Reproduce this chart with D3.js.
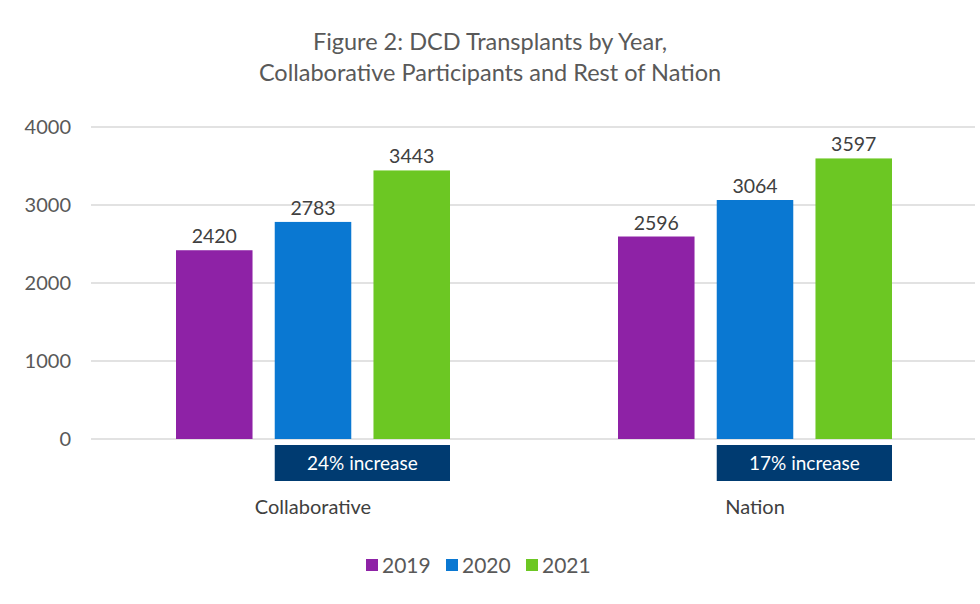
<!DOCTYPE html>
<html><head><meta charset="utf-8">
<script src="https://cdn.jsdelivr.net/npm/d3@7"></script>
<style>body{margin:0;background:#fff;} svg{display:block;font-family:Lato,"Open Sans",sans-serif;}</style>
</head><body>
<svg id="c" width="980" height="604"></svg>
<script>
const categories = ["Collaborative", "Nation"];
const years = ["2019", "2020", "2021"];
const values2019 = [2420, 2596];
const values2020 = [2783, 3064];
const values2021 = [3443, 3597];
const increases = ["24% increase", "17% increase"];
const yTicks = [0, 1000, 2000, 3000, 4000];
const colors = ["#8E22A6", "#0A78D2", "#6CC723"];

const svg = d3.select("#c");
const W = 980, H = 604;
const m = {l: 91, r: 5, t: 127, b: 165};
const x0 = d3.scaleBand().domain(categories).range([m.l, W - m.r]).paddingInner(0).paddingOuter(0);
const x1 = d3.scaleBand().domain(years).range([0, 274]).paddingInner(0.225).paddingOuter(0);
const y = d3.scaleLinear().domain([0, 4000]).range([439, 127]);

svg.append("text").attr("x", 490).attr("y", 50).attr("text-anchor", "middle")
  .attr("font-size", 23.5).attr("fill", "#595959").text("Figure 2: DCD Transplants by Year,");
svg.append("text").attr("x", 490).attr("y", 81).attr("text-anchor", "middle")
  .attr("font-size", 23.5).attr("fill", "#595959").text("Collaborative Participants and Rest of Nation");

// grid
svg.append("g").selectAll("line").data(yTicks).join("line")
  .attr("x1", m.l).attr("x2", W - m.r)
  .attr("y1", d => y(d)).attr("y2", d => y(d))
  .attr("stroke", "#d9d9d9").attr("stroke-width", 1.3);

const yAxis = svg.append("g").attr("transform", `translate(71,0)`)
  .call(d3.axisLeft(y).tickValues(yTicks).tickFormat(d3.format("d")).tickSize(0).tickPadding(0));
yAxis.select(".domain").remove();
yAxis.selectAll("text").attr("font-size", 20).attr("fill", "#595959").attr("font-family", "Lato,'Open Sans',sans-serif");

const series = [values2019, values2020, values2021];
const groupOffset = c => x0(c) + (x0.bandwidth() - 274) / 2 + 1;

categories.forEach((c, i) => {
  const g = svg.append("g").attr("transform", `translate(${groupOffset(c)},0)`);
  years.forEach((yr, j) => {
    const v = series[j][i];
    g.append("rect").attr("x", x1(yr)).attr("width", x1.bandwidth())
      .attr("y", y(v)).attr("height", y(0) - y(v)).attr("fill", colors[j]);
    g.append("text").attr("x", x1(yr) + x1.bandwidth() / 2).attr("y", y(v) - 7)
      .attr("text-anchor", "middle").attr("font-size", 19.5).attr("fill", "#404040").text(v);
  });
  const bx = x1("2020"), bw = x1("2021") + x1.bandwidth() - bx;
  g.append("rect").attr("x", bx).attr("y", 445).attr("width", bw).attr("height", 36).attr("fill", "#003B71");
  g.append("text").attr("x", bx + bw / 2).attr("y", 470).attr("text-anchor", "middle")
    .attr("font-size", 19).attr("fill", "#ffffff").text(increases[i]);
  svg.append("text").attr("x", x0(c) + x0.bandwidth() / 2 + 1).attr("y", 514).attr("text-anchor", "middle")
    .attr("font-size", 20).attr("fill", "#404040").text(c);
});

// legend
const legX = [366, 446, 526];
const lg = svg.append("g");
years.forEach((yr, j) => {
  lg.append("rect").attr("x", legX[j]).attr("y", 559).attr("width", 12).attr("height", 12).attr("fill", colors[j]);
  lg.append("text").attr("x", legX[j] + 16).attr("y", 573).attr("font-size", 21).attr("fill", "#595959").text(yr);
});
</script>
</body></html>
